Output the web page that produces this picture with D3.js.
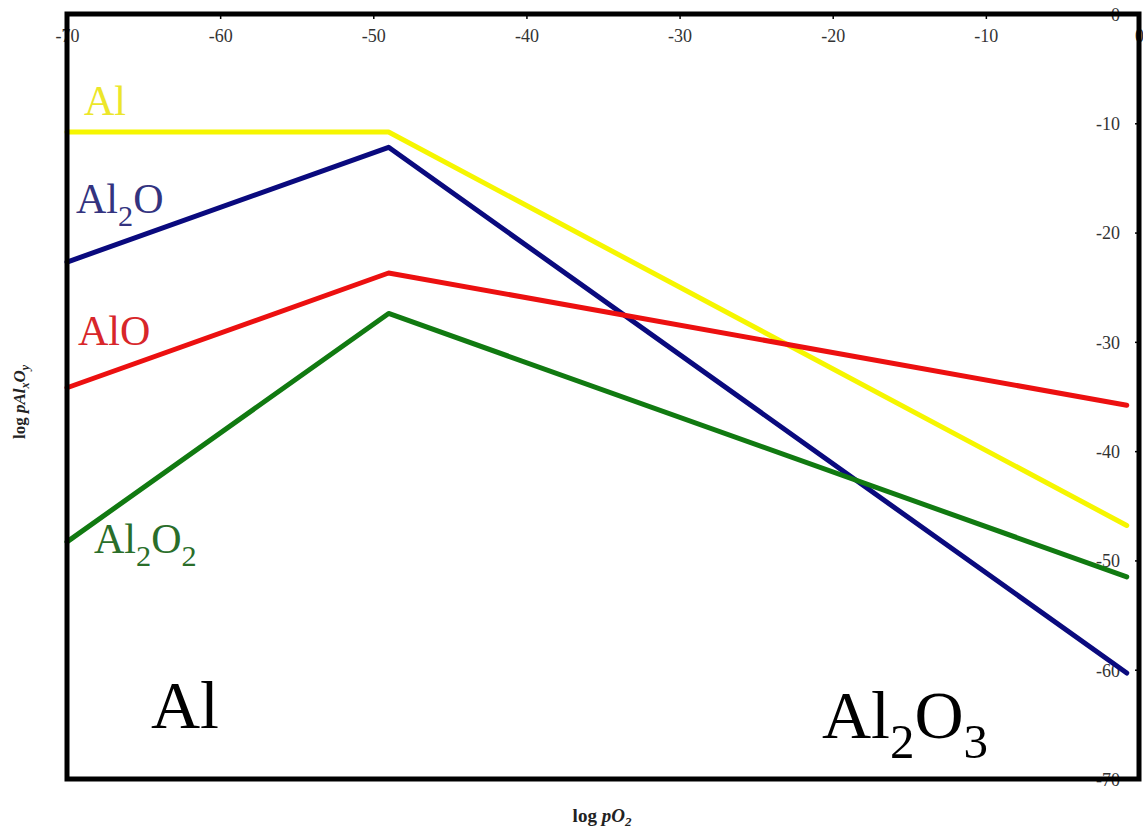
<!DOCTYPE html>
<html>
<head>
<meta charset="utf-8">
<script src="https://cdn.jsdelivr.net/npm/d3@7"></script>
<style>
  html, body { margin: 0; padding: 0; background: #fff; }
  svg { display: block; }
</style>
</head>
<body>
<svg id="chart" width="1143" height="837"></svg>
<script>
// log pO2 break points shared by all species
const logPO2 = [-70, -49, -0.8];

// log partial pressure of each gaseous Al species
const alValues    = [-10.8, -10.8, -46.8];
const al2oValues  = [-22.7, -12.2, -60.3];
const aloValues   = [-34.2, -23.7, -35.8];
const al2o2Values = [-48.3, -27.4, -51.5];

const xTicks = [-70, -60, -50, -40, -30, -20, -10, 0];
const yTicks = [0, -10, -20, -30, -40, -50, -60, -70];

const series = [
  { name: "Al",    values: alValues,    color: "#f6f600", text: "#ece62a" },
  { name: "Al2O",  values: al2oValues,  color: "#0a0a7e", text: "#33337f" },
  { name: "AlO",   values: aloValues,   color: "#ec1010", text: "#d8262a" },
  { name: "Al2O2", values: al2o2Values, color: "#117a11", text: "#2a6e2a" }
];

const svg = d3.select("#chart");
const plotLeft = 67, plotRight = 1139, plotTop = 14, plotBottom = 779;

const x = d3.scaleLinear().domain([-70, 0]).range([plotLeft, plotRight]);
const y = d3.scaleLinear().domain([0, -70]).range([plotTop, plotBottom]);

const serif = "'Liberation Serif', 'Times New Roman', serif";
const tickFmt = d => String(d); // plain hyphen-minus

// top axis with inward ticks
const xAxis = d3.axisTop(x).tickValues(xTicks).tickSize(-5).tickPadding(-28)
  .tickFormat(tickFmt);
const gx = svg.append("g").attr("transform", `translate(0,${plotTop})`).call(xAxis);
gx.select(".domain").remove();
gx.selectAll(".tick line").attr("stroke", "#000").attr("stroke-width", 1.5);
gx.selectAll(".tick text").attr("font-family", serif).attr("font-size", 18)
  .attr("fill", "#333");

// right axis, labels placed inside the frame
const yAxis = d3.axisRight(y).tickValues(yTicks).tickSize(-4).tickPadding(-19)
  .tickFormat(tickFmt);
const gy = svg.append("g").attr("transform", `translate(${plotRight},0)`).call(yAxis);
gy.select(".domain").remove();
gy.selectAll(".tick line").attr("stroke", "#000").attr("stroke-width", 1.5);
gy.selectAll(".tick text").attr("font-family", serif).attr("font-size", 18)
  .attr("fill", "#333").attr("text-anchor", "end").attr("dy", "0.35em");

// species lines
const line = d3.line().x((d, i) => x(logPO2[i])).y(d => y(d));
svg.append("g").selectAll("path").data(series).join("path")
  .attr("d", d => line(d.values))
  .attr("fill", "none")
  .attr("stroke", d => d.color)
  .attr("stroke-width", 5)
  .attr("stroke-linejoin", "round")
  .attr("stroke-linecap", "round");

// frame
svg.append("rect")
  .attr("x", plotLeft).attr("y", plotTop)
  .attr("width", plotRight - plotLeft).attr("height", plotBottom - plotTop)
  .attr("fill", "none").attr("stroke", "#000").attr("stroke-width", 5);

// formula label helper: parts are [text, isSubscript]
function formula(g, parts, size, color, px, py) {
  const t = g.append("text").attr("x", px).attr("y", py)
    .attr("font-family", serif).attr("font-size", size).attr("fill", color);
  let sub = false;
  parts.forEach(([s, isSub]) => {
    const ts = t.append("tspan").text(s);
    if (isSub && !sub) { ts.attr("dy", size * 0.3).attr("font-size", size * 0.72); sub = true; }
    else if (!isSub && sub) { ts.attr("dy", -size * 0.3); sub = false; }
    else if (isSub) { ts.attr("font-size", size * 0.72); }
  });
  return t;
}

const labels = svg.append("g");
formula(labels, [["Al", false]], 42, series[0].text, 84, 115);
formula(labels, [["Al", false], ["2", true], ["O", false]], 42, series[1].text, 76, 213);
formula(labels, [["AlO", false]], 42, series[2].text, 78, 345);
formula(labels, [["Al", false], ["2", true], ["O", false], ["2", true]], 42, series[3].text, 94, 553);

// phase field labels
formula(labels, [["Al", false]], 68, "#000", 151, 728);
formula(labels, [["Al", false], ["2", true], ["O", false], ["3", true]], 68, "#000", 822, 738);

// axis titles
const xt = svg.append("text").attr("x", 602).attr("y", 822)
  .attr("text-anchor", "middle").attr("font-family", serif)
  .attr("font-size", 19).attr("font-weight", "bold").attr("fill", "#222");
xt.append("tspan").text("log ");
xt.append("tspan").attr("font-style", "italic").text("pO");
xt.append("tspan").attr("font-style", "italic").attr("font-size", 13).attr("dy", 4).text("2");

const yt = svg.append("text")
  .attr("transform", "translate(25,402) rotate(-90)")
  .attr("text-anchor", "middle").attr("font-family", serif)
  .attr("font-size", 17).attr("font-weight", "bold").attr("fill", "#222");
yt.append("tspan").text("log ");
yt.append("tspan").attr("font-style", "italic").text("pAl");
yt.append("tspan").attr("font-style", "italic").attr("font-size", 12).attr("dy", 4).text("x");
yt.append("tspan").attr("font-style", "italic").attr("dy", -4).text("O");
yt.append("tspan").attr("font-style", "italic").attr("font-size", 12).attr("dy", 4).text("y");
</script>
</body>
</html>
